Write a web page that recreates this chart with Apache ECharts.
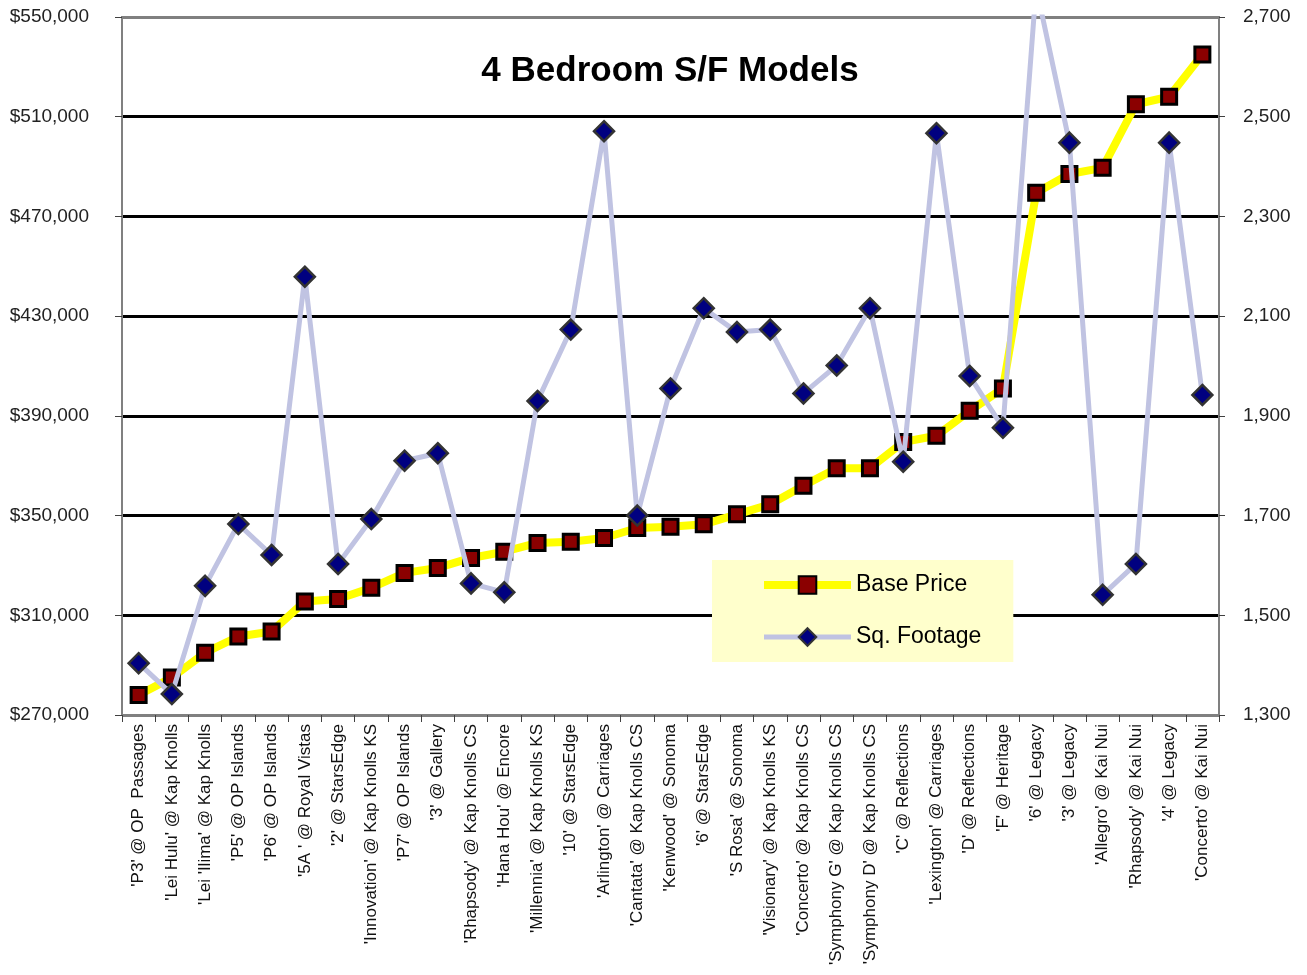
<!DOCTYPE html>
<html>
<head>
<meta charset="utf-8">
<script src="https://cdn.jsdelivr.net/npm/echarts@6/dist/echarts.min.js"></script>
<style>
  html, body { margin: 0; padding: 0; background: #fff; }
  #chart { width: 1307px; height: 975px; }
</style>
</head>
<body>
<div id="chart"></div>
<script>
// 型号（横轴类目）
var models = [
    "'P3' @ OP  Passages", "'Lei Hulu' @ Kap Knolls", "'Lei 'Ilima' @ Kap Knolls",
    "'P5' @ OP Islands", "'P6' @ OP Islands", "'5A ' @ Royal Vistas", "'2' @ StarsEdge",
    "'Innovation' @ Kap Knolls KS", "'P7' @ OP Islands", "'3' @ Gallery",
    "'Rhapsody' @ Kap Knolls CS", "'Hana Hou' @ Encore", "'Millennia' @ Kap Knolls KS",
    "'10' @ StarsEdge", "'Arlington' @ Carriages", "'Cantata' @ Kap Knolls CS",
    "'Kenwood' @ Sonoma", "'6' @ StarsEdge", "'S Rosa' @ Sonoma",
    "'Visionary' @ Kap Knolls KS", "'Concerto' @ Kap Knolls CS", "'Symphony G' @ Kap Knolls CS",
    "'Symphony D' @ Kap Knolls CS", "'C' @ Reflections", "'Lexington' @ Carriages",
    "'D' @ Reflections", "'F' @ Heritage", "'6' @ Legacy", "'3' @ Legacy",
    "'Allegro' @ Kai Nui", "'Rhapsody' @ Kai Nui", "'4' @ Legacy", "'Concerto' @ Kai Nui"
];
// 基础价格
var basePrice = [
    278000, 285000, 295000, 301500, 303500, 315500, 316500, 321000, 327000, 329000,
    333000, 335500, 339000, 339500, 341000, 345000, 345500, 346500, 350500, 354500,
    362000, 369000, 369000, 379500, 382000, 392000, 401000, 479500, 487000, 489500,
    515000, 518000, 535000
];
// 面积
var sqFootage = [
    1404, 1342, 1559, 1683, 1621, 2179, 1603, 1693, 1810, 1825,
    1564, 1546, 1930, 2073, 2471, 1700, 1955, 2116, 2068, 2073,
    1945, 2001, 2116, 1808, 2467, 1980, 1876, 2760, 2448, 1541,
    1603, 2448, 1942
];
var priceTicks = [270000, 550000, 40000];
var sqftTicks = [1300, 2700, 200];

var FONT = "'Liberation Sans Narrow', 'Arial Narrow', 'Liberation Sans', Arial, sans-serif";

function withCommas(v) {
    return String(v).replace(/\B(?=(\d{3})+(?!\d))/g, ',');
}

var chart = echarts.init(document.getElementById('chart'));
var option = {
    backgroundColor: '#fff',
    textStyle: { fontFamily: FONT },
    title: {
        text: '4 Bedroom S/F Models',
        left: 665,
        top: 49,
        textAlign: 'center',
        textStyle: { fontFamily: FONT, fontSize: 35, fontWeight: 'bold', color: '#000' }
    },
    legend: {
        orient: 'vertical',
        left: 712,
        top: 560,
        padding: [10, 32, 10, 48],
        backgroundColor: '#FFFFCC',
        itemWidth: 87,
        itemHeight: 22,
        itemGap: 22,
        textStyle: { fontFamily: FONT, fontSize: 23, color: '#000', lineHeight: 30 },
        data: [
            { name: 'Base Price', lineStyle: { width: 8 } },
            { name: 'Sq. Footage', lineStyle: { width: 5 } }
        ]
    },
    grid: {
        left: 122,
        right: 88,
        top: 17,
        bottom: 260,
        containLabel: false,
        outerBoundsMode: 'none',
        show: true,
        borderColor: '#808080',
        borderWidth: 2
    },
    xAxis: {
        type: 'category',
        data: models,
        boundaryGap: true,
        axisLine: { lineStyle: { color: '#808080', width: 2 } },
        axisTick: { show: true, length: 7, lineStyle: { color: '#404040', width: 1 } },
        axisLabel: {
            interval: 0,
            rotate: 90,
            margin: 9,
            fontSize: 17,
            color: '#111',
            fontFamily: FONT
        }
    },
    yAxis: [
        {
            type: 'value',
            min: priceTicks[0],
            max: priceTicks[1],
            interval: priceTicks[2],
            axisLine: { show: true, lineStyle: { color: '#808080', width: 2 } },
            axisTick: { show: true, length: 7, lineStyle: { color: '#404040' } },
            splitLine: {
                show: true,
                lineStyle: {
                    color: ['#808080', '#000', '#000', '#000', '#000', '#000', '#000', '#808080'],
                    width: 3
                }
            },
            axisLabel: {
                margin: 33,
                fontSize: 19,
                color: '#222',
                fontFamily: FONT,
                formatter: function (v) { return '$' + withCommas(v); }
            }
        },
        {
            type: 'value',
            min: sqftTicks[0],
            max: sqftTicks[1],
            interval: sqftTicks[2],
            position: 'right',
            axisLine: { show: true, lineStyle: { color: '#808080', width: 2 } },
            axisTick: { show: true, length: 6, lineStyle: { color: '#404040' } },
            splitLine: { show: false },
            axisLabel: {
                margin: 24,
                fontSize: 19,
                color: '#222',
                fontFamily: FONT,
                formatter: function (v) { return withCommas(v); }
            }
        }
    ],
    series: [
        {
            name: 'Base Price',
            type: 'line',
            yAxisIndex: 0,
            data: basePrice,
            symbol: 'rect',
            symbolSize: 15,
            clip: false,
            lineStyle: { color: '#FFFF00', width: 8 },
            itemStyle: { color: '#8B0000', borderColor: '#000', borderWidth: 3 },
            z: 2
        },
        {
            name: 'Sq. Footage',
            type: 'line',
            yAxisIndex: 1,
            data: sqFootage,
            symbol: 'diamond',
            symbolSize: 20,
            clip: false,
            lineStyle: { color: '#C0C3E2', width: 5 },
            itemStyle: { color: '#000080', borderColor: '#333', borderWidth: 2.5 },
            z: 3
        }
    ]
};
chart.setOption(option);
</script>
</body>
</html>
